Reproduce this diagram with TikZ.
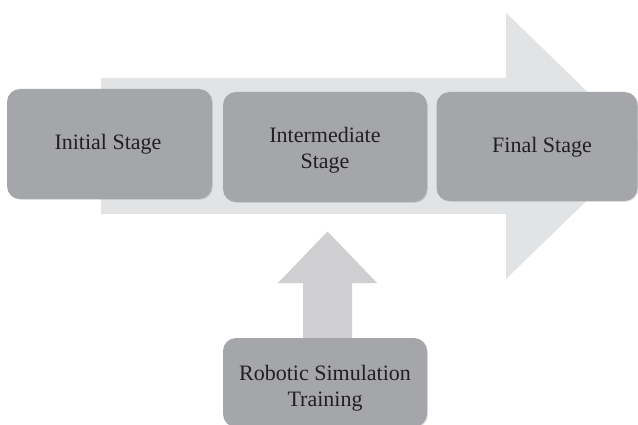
\documentclass[tikz,border=0pt]{standalone}
\usepackage{fontspec}
\setmainfont{Liberation Serif}
\usetikzlibrary{shadows}
\definecolor{boxgray}{RGB}{165,166,170}
\definecolor{biggray}{RGB}{226,227,229}
\definecolor{upgray}{RGB}{207,207,209}
\definecolor{inkc}{RGB}{35,31,32}
\begin{document}
\begin{tikzpicture}[x=1pt,y=-1pt,
  stagebox/.style={draw=none, fill=boxgray, rounded corners=13pt, inner sep=0pt,
    drop shadow={opacity=0.25, shadow xshift=0.8pt, shadow yshift=-0.8pt}},
  stagetext/.style={text=inkc, font=\fontsize{22}{26}\selectfont, align=center, inner sep=0pt}]
\useasboundingbox (0,0) rectangle (638,425);
\fill[white] (0,0) rectangle (638,425);
% big arrow
\fill[biggray] (101,78) -- (506,78) -- (506,12.7) -- (643,146) -- (506,279) -- (506,214) -- (101,214) -- cycle;
% up arrow
\fill[upgray] (303,340) -- (303,283) -- (278,283) -- (327.5,231.5) -- (377,283) -- (352,283) -- (352,340) -- cycle;
% boxes
\node[stagebox, minimum width=205pt, minimum height=110pt] (initial) at (109.5,144) {};
\node[stagebox, minimum width=204pt, minimum height=110pt] (inter) at (325,147) {};
\node[stagebox, minimum width=201pt, minimum height=109pt] (final) at (537,146.5) {};
\node[stagebox, minimum width=204pt, minimum height=89pt] (robot) at (325,382.5) {};
% texts
\node[stagetext] (tinitial) at (108,144) {Initial Stage};
\node[stagetext] (tinter) at (325,150) {Intermediate\\Stage};
\node[stagetext] (tfinal) at (542,147) {Final Stage};
\node[stagetext] (trobot) at (325,388) {Robotic Simulation\\Training};
\end{tikzpicture}
\end{document}
